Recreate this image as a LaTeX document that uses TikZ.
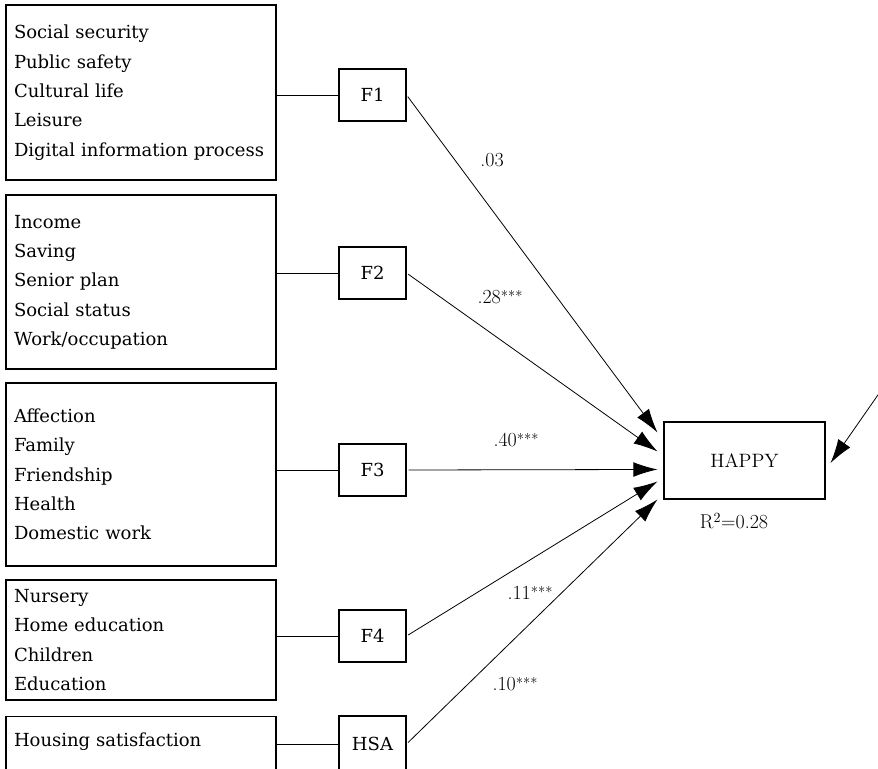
\documentclass[tikz,border=0pt]{standalone}
\usepackage{fontspec}
\newfontfamily\itemfont{DejaVu Serif}
\usetikzlibrary{arrows.meta,calc}
\newcommand{\sig}{\raisebox{1.5pt}{\fontsize{11}{13}\selectfont***}}

\begin{document}
\begin{tikzpicture}
		[x=0.75pt,y=-0.75pt,line width=0.6pt,%
		  itembox/.style={shape=rectangle,draw,line width=0.8pt,inner xsep=6pt,
		    text width=190.5pt,align=left,font=\itemfont\fontsize{13.5}{22}\selectfont},
		  factor/.style={shape=rectangle,draw,line width=0.8pt,minimum width=50.25pt,
		    minimum height=39pt,font=\itemfont\fontsize{13.5}{16}\selectfont},
		  outcome/.style={shape=rectangle,draw,line width=0.8pt,minimum width=120.75pt,
		    minimum height=57.75pt,font=\fontsize{14.5}{17}\selectfont},
		  coef/.style={font=\fontsize{15}{18}\selectfont},
		  effect/.style={-{Latex[length=18pt,width=11pt]},shorten <=1.5pt}]
		\useasboundingbox (0,0) rectangle (878,768);
		\clip (0,0) rectangle (878,768);
		% indicator blocks
		\node[itembox,minimum height=131.25pt] (box1) at (141,92.5)
		  {Social security\\Public safety\\Cultural life\\Leisure\\Digital information process};
		\node[itembox,minimum height=130.5pt] (box2) at (141,282)
		  {Income\\Saving\\Senior plan\\Social status\\Work/occupation};
		\node[itembox,minimum height=137.25pt] (box3) at (141,474.5)
		  {Affection\\Family\\Friendship\\Health\\Domestic work};
		\node[itembox,minimum height=90pt] (box4) at (141,640)
		  {Nursery\\Home education\\Children\\Education};
		\node[itembox,anchor=north,inner ysep=4pt,text height=18.5pt,text depth=30pt] (box5) at (141,716)
		  {Housing satisfaction};
		% factors
		\node[factor] (f1) at (372.5,95) {F1};
		\node[factor] (f2) at (372.5,273) {F2};
		\node[factor] (f3) at (372.5,470) {F3};
		\node[factor] (f4) at (372.5,636) {F4};
		\node[factor,minimum height=42pt] (hsa) at (372.5,744) {HSA};
		\node[outcome] (happy) at (744.5,460.5) {HAPPY};
		\node[coef] (r2) at (734,521) {R\textsuperscript{2}=0.28};
		\foreach \b/\f in {box1/f1,box2/f2,box3/f3,box4/f4,box5/hsa}
		  \draw (\b.east |- \f.west) -- (\f.west);
		% paths into HAPPY
		\coordinate (in1) at ($(happy.north west)+(-6,11)$);
		\coordinate (in2) at ($(happy.north west)+(-6,30)$);
		\coordinate (in3) at ($(happy.north west)+(-6,48)$);
		\coordinate (in4) at ($(happy.north west)+(-6,60)$);
		\coordinate (in5) at ($(happy.north west)+(-6,78)$);
		\coordinate (err) at (880,392);
		\draw[effect] (f1.east) -- (in1);
		\draw[effect] (f2.east) -- (in2);
		\draw[effect] (f3.east) -- (in3);
		\draw[effect] (f4.east) -- (in4);
		\draw[effect] (hsa.east) -- (in5);
		\draw[effect] (err) -- ($(happy.east)+(5,2.5)$);
		\node[coef] (c1) at (492,160) {.03};
		\node[coef] (c2) at (500,297) {.28\sig};
		\node[coef] (c3) at (516,440) {.40\sig};
		\node[coef] (c4) at (530,593) {.11\sig};
		\node[coef] (c5) at (515,684) {.10\sig};
	\end{tikzpicture}
\end{document}
